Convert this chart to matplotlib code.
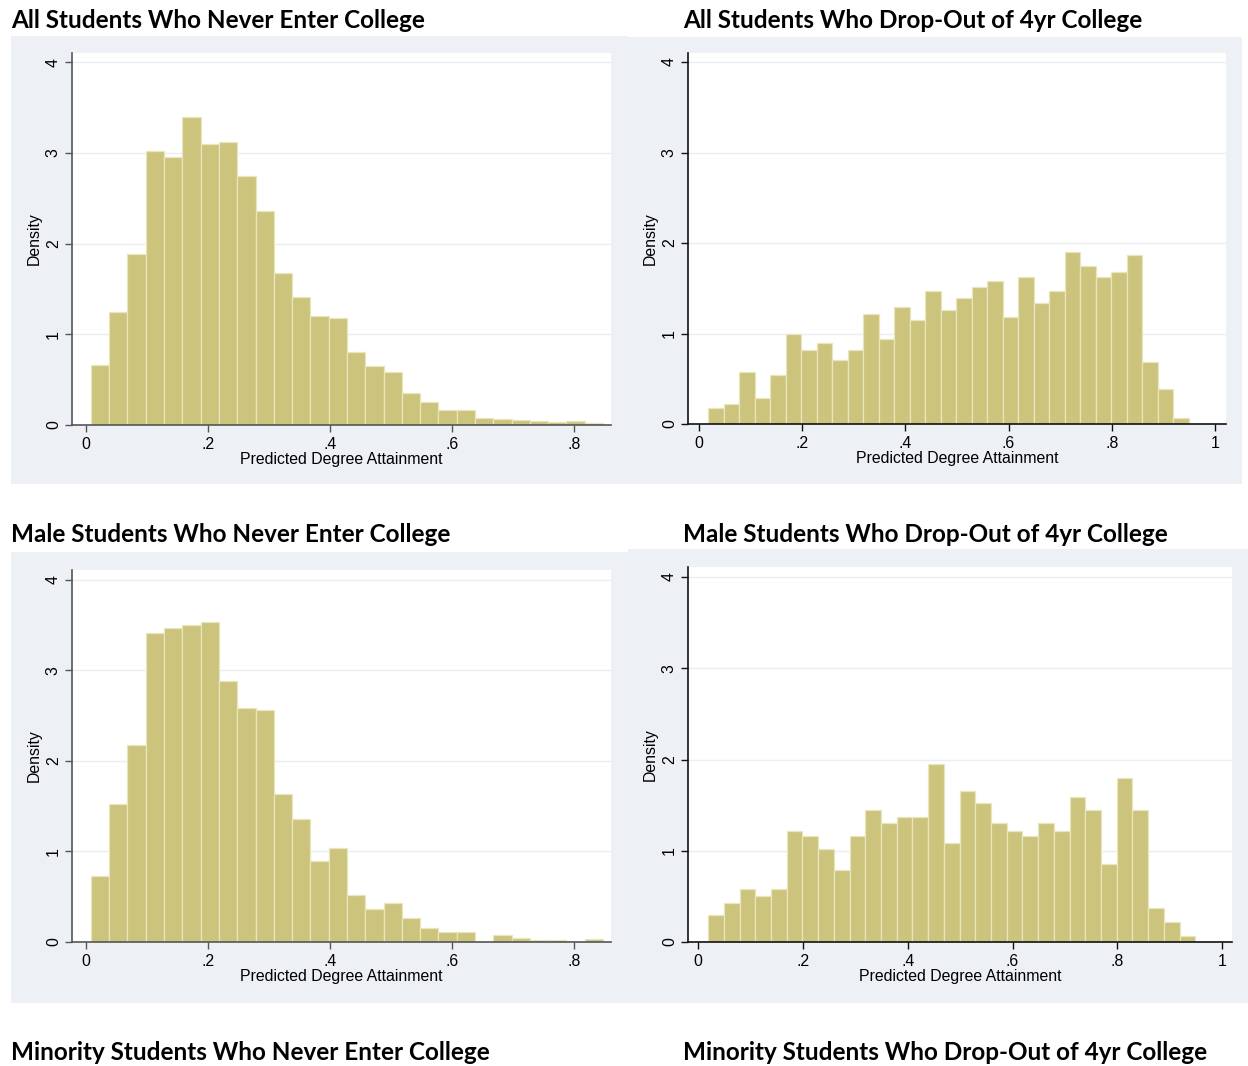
import numpy as np
import matplotlib
matplotlib.use("Agg")
from matplotlib import pyplot as plt
from matplotlib.patches import Rectangle

# ---- data (densities) ----
never_bin_start = 0.008
never_bin_width = 0.030
drop_bin_start = 0.019
drop_bin_width = 0.030

all_never = [0.66, 1.24, 1.88, 3.02, 2.95, 3.39, 3.10, 3.12, 2.74, 2.36,
             1.67, 1.41, 1.20, 1.18, 0.80, 0.65, 0.58, 0.35, 0.25, 0.17,
             0.17, 0.08, 0.07, 0.055, 0.04, 0.033, 0.044, 0.022]

all_drop = [0.18, 0.22, 0.58, 0.29, 0.54, 1.00, 0.82, 0.90, 0.71, 0.82,
            1.22, 0.94, 1.29, 1.15, 1.47, 1.26, 1.39, 1.51, 1.58, 1.18,
            1.62, 1.34, 1.47, 1.90, 1.75, 1.62, 1.68, 1.87, 0.68, 0.39, 0.07]

male_never = [0.73, 1.52, 2.18, 3.41, 3.47, 3.50, 3.53, 2.88, 2.59, 2.56,
              1.63, 1.36, 0.90, 1.04, 0.52, 0.37, 0.43, 0.26, 0.16, 0.11,
              0.11, 0.0, 0.074, 0.048, 0.026, 0.026, 0.0, 0.029]

male_drop = [0.30, 0.43, 0.58, 0.50, 0.58, 1.22, 1.16, 1.02, 0.79, 1.16,
             1.45, 1.30, 1.37, 1.37, 1.95, 1.08, 1.66, 1.52, 1.30, 1.22,
             1.16, 1.30, 1.22, 1.59, 1.45, 0.86, 1.80, 1.45, 0.37, 0.22, 0.07]

never_ticks = [0, 0.2, 0.4, 0.6, 0.8]
never_ticklabels = ["0", ".2", ".4", ".6", ".8"]
drop_ticks = [0, 0.2, 0.4, 0.6, 0.8, 1.0]
drop_ticklabels = ["0", ".2", ".4", ".6", ".8", "1"]
y_ticks = [0, 1, 2, 3, 4]

titles = ["All Students Who Never Enter College",
          "All Students Who Drop-Out of 4yr College",
          "Male Students Who Never Enter College",
          "Male Students Who Drop-Out of 4yr College",
          "Minority Students Who Never Enter College",
          "Minority Students Who Drop-Out of 4yr College"]

W, H = 1248, 1066
BAR = "#CCC47C"
BAR_EDGE = "#E9E5BC"
REGION = "#EDF1F6"
GRID = "#EAEFF2"
STATA_FONT = "Liberation Sans"
TITLE_FONT = "Lato"
FS = 11.4

fig = plt.figure(figsize=(W / 100, H / 100), dpi=100)
fig.patch.set_facecolor("white")


def frac(x0, y0, x1, y1):
    # pixel box (top-left origin) -> figure fraction [l, b, w, h]
    return [x0 / W, 1 - y1 / H, (x1 - x0) / W, (y1 - y0) / H]


def panel(region, plotbox, vals, start, width, ticks, ticklabels, xlim, ylim_top, spine_col):
    l, b, w, h = frac(*region)
    fig.patches.append(Rectangle((l, b), w, h, transform=fig.transFigure,
                                 facecolor=REGION, edgecolor="none", zorder=-5))
    ax = fig.add_axes(frac(*plotbox))
    ax.set_zorder(2)
    ax.set_facecolor("white")
    lefts = start + width * np.arange(len(vals))
    ax.bar(lefts, vals, width=width, align="edge", color=BAR,
           edgecolor=BAR_EDGE, linewidth=0.9, zorder=2)
    ax.set_xlim(*xlim)
    ax.set_ylim(0, ylim_top)
    ax.set_yticks(y_ticks)
    ax.set_yticklabels([str(t) for t in y_ticks], rotation=90, va="center",
                       family=STATA_FONT, fontsize=FS)
    ax.set_xticks(ticks)
    ax.set_xticklabels(ticklabels, family=STATA_FONT, fontsize=FS)
    for t in y_ticks[1:]:
        ax.axhline(t, color=GRID, lw=1.0, zorder=1)
    for s in ["top", "right"]:
        ax.spines[s].set_visible(False)
    for s in ["left", "bottom"]:
        ax.spines[s].set_color(spine_col)
        ax.spines[s].set_linewidth(1.2)
    ax.tick_params(axis="both", direction="out", length=5, width=1.0,
                   color=spine_col, pad=3, labelcolor="black")
    ax.tick_params(axis="x", pad=3.5)
    ax.set_ylabel("Density", family=STATA_FONT, fontsize=FS, labelpad=3)
    ax.set_xlabel("Predicted Degree Attainment", family=STATA_FONT,
                  fontsize=FS, labelpad=0)
    return ax


panel((11, 36, 628, 484), (72, 53, 611, 425), all_never, never_bin_start,
      never_bin_width, never_ticks, never_ticklabels, (-0.023, 0.861), 4.1, "#555555")
panel((628, 37, 1242, 484), (688, 53, 1226, 424), all_drop, drop_bin_start,
      drop_bin_width, drop_ticks, drop_ticklabels, (-0.0205, 1.021), 4.1, "#111111")
panel((11, 552, 628, 1003), (72, 570, 611, 942), male_never, never_bin_start,
      never_bin_width, never_ticks, never_ticklabels, (-0.023, 0.861), 4.11, "#555555")
panel((628, 549, 1248, 1003), (688, 567, 1232, 942), male_drop, drop_bin_start,
      drop_bin_width, drop_ticks, drop_ticklabels, (-0.0195, 1.019), 4.11, "#111111")

title_pos = [(11, 20), (683, 20), (11, 535), (683, 535), (11, 1052), (683, 1052)]
for (tx, ty), txt in zip(title_pos, titles):
    fig.text(tx / W, 1 - ty / H, txt, family=TITLE_FONT, fontweight="bold",
             fontsize=17.5, ha="left", va="center", color="black")

fig.savefig("out.png", dpi=100, facecolor="white")
